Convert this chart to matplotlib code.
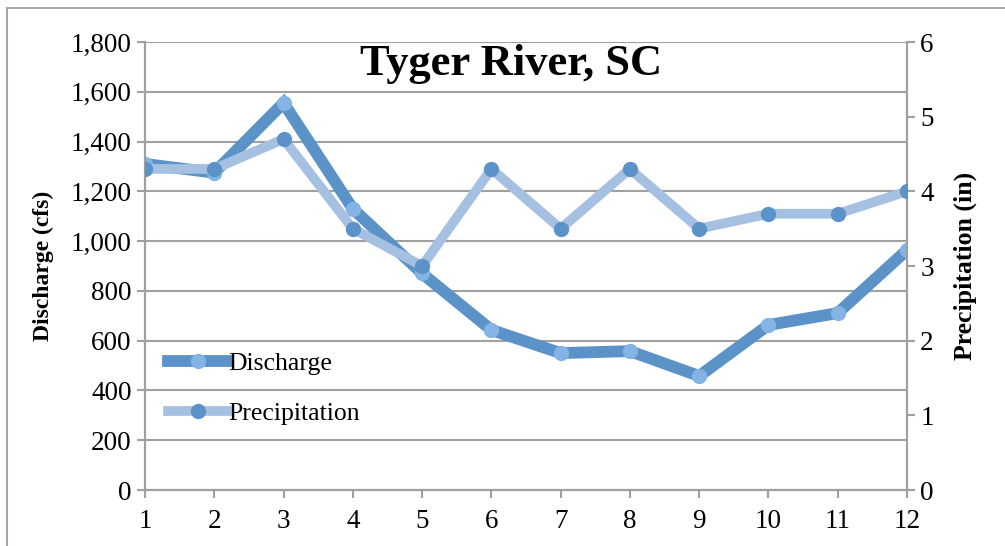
import numpy as np
import matplotlib.pyplot as plt
from matplotlib.patches import Rectangle

# Monthly data
months = [1, 2, 3, 4, 5, 6, 7, 8, 9, 10, 11, 12]
discharge = [1310, 1275, 1555, 1130, 870, 643, 550, 558, 458, 663, 711, 964]
precip = [4.3, 4.3, 4.7, 3.5, 3.0, 4.3, 3.5, 4.3, 3.5, 3.7, 3.7, 4.0]

dark = '#5b93c8'
light = '#a5c0e0'
marker_light = '#84b4e6'
grid_col = '#a0a0a0'

plt.rcParams['font.family'] = ['Liberation Serif', 'DejaVu Serif']

fig = plt.figure(figsize=(10.05, 5.46), dpi=100)
fig.patches.append(Rectangle((7 / 1005, -0.1), 1.2, 538 / 546 + 0.1,
                             transform=fig.transFigure, fill=False,
                             edgecolor='#a8a8a8', linewidth=1.5))

ax1 = fig.add_axes([145 / 1005, 56 / 546, 762 / 1005, 448 / 546])
ax2 = ax1.twinx()

l1, = ax1.plot(months, discharge, color=dark, lw=8.5, marker='o', ms=10,
               mfc=marker_light, mec=marker_light, solid_joinstyle='miter',
               label='Discharge', zorder=3)
l2, = ax2.plot(months, precip, color=light, lw=7, marker='o', ms=10,
               mfc=dark, mec=dark, label='Precipitation', zorder=3)

ax1.set_xlim(1, 12)
ax1.set_ylim(0, 1800)
ax2.set_ylim(0, 6)
ax1.set_xticks(months)
ax1.set_yticks(np.arange(0, 1801, 200))
ax1.set_yticklabels(['{:,}'.format(v) for v in range(0, 1801, 200)])
ax2.set_yticks(range(0, 7))

ax1.yaxis.grid(True, color=grid_col, lw=1.5)
ax1.set_axisbelow(True)
for ax in (ax1, ax2):
    for s in ax.spines.values():
        s.set_color(grid_col)
        s.set_linewidth(1.5)
    ax.spines['top'].set_visible(False)
    ax.tick_params(colors=grid_col, labelcolor='black', labelsize=19.5,
                   width=1.5, length=6)
ax1.tick_params(axis='x', pad=8)

ax1.set_ylabel('Discharge (cfs)', fontsize=17, fontweight='bold', labelpad=12)
ax2.set_ylabel('Precipitation (in)', fontsize=18.5, fontweight='bold', labelpad=14)

ax1.text(0.48, 0.95, 'Tyger River, SC', transform=ax1.transAxes,
         ha='center', va='center', fontsize=32, fontweight='bold')

ax2.legend(handles=[l1, l2], loc='upper left', bbox_to_anchor=(0.0, 0.36),
           frameon=False, fontsize=18.5, handlelength=2.3, handletextpad=0.05,
           labelspacing=1.05, numpoints=1)

fig.savefig('out.png', dpi=100)
